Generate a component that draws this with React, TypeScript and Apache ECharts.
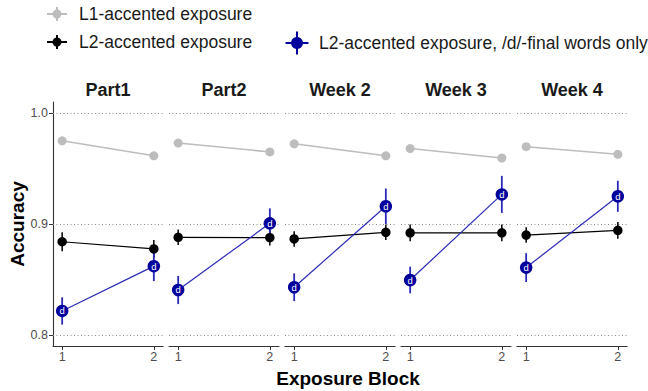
import React, { useEffect, useRef } from "react";
import * as echarts from "echarts";

const panels = ["Part1", "Part2", "Week 2", "Week 3", "Week 4"];
const blocks = [1, 2];
const yTicks = [0.8, 0.9, 1.0];

// L1-accented exposure
const l1Acc = [
  [0.975, 0.9615],
  [0.973, 0.965],
  [0.9723, 0.9615],
  [0.968, 0.9595],
  [0.9697, 0.9628],
];
const l1Err = [
  [0.003, 0.003],
  [0.003, 0.003],
  [0.003, 0.003],
  [0.003, 0.003],
  [0.003, 0.003],
];
// L2-accented exposure
const l2Acc = [
  [0.884, 0.8775],
  [0.888, 0.8877],
  [0.8865, 0.8925],
  [0.892, 0.892],
  [0.89, 0.8943],
];
const l2Err = [
  [0.0085, 0.008],
  [0.007, 0.007],
  [0.007, 0.007],
  [0.0075, 0.0075],
  [0.007, 0.0075],
];
// L2-accented exposure, /d/-final words only
const dAcc = [
  [0.8216, 0.862],
  [0.8405, 0.9006],
  [0.843, 0.916],
  [0.8495, 0.9267],
  [0.8607, 0.925],
];
const dErr = [
  [0.0123, 0.0135],
  [0.0127, 0.0135],
  [0.0125, 0.016],
  [0.012, 0.0167],
  [0.013, 0.014],
];

const FONT = "'Liberation Sans', Arial, Helvetica, sans-serif";
const GREY = "#bdbdbd";
const BLACK = "#000000";
const BLUE_PT = "#00009c";
const BLUE_LN = "#2a2ab8";

const PANEL_LEFT = 53;
const PANEL_STEP = 116;
const PANEL_W = 110;
const PANEL_TOP = 102;
const PANEL_H = 244;

function errSeries(i: number, acc: number[][], err: number[][], color: string, width: number) {
  return {
    type: "custom",
    xAxisIndex: i,
    yAxisIndex: i,
    silent: true,
    z: 3,
    data: blocks.map((b, k) => [b, acc[i][k] - err[i][k], acc[i][k] + err[i][k]]),
    renderItem: (params: any, api: any) => {
      const p1 = api.coord([api.value(0), api.value(1)]);
      const p2 = api.coord([api.value(0), api.value(2)]);
      return {
        type: "line",
        shape: { x1: p1[0], y1: p1[1], x2: p2[0], y2: p2[1] },
        style: { stroke: color, lineWidth: width },
      };
    },
  };
}

function legendIcon(cx: number, cy: number, color: string, r: number, hh: number, hv: number) {
  return {
    type: "group",
    children: [
      { type: "line", shape: { x1: cx - hh, y1: cy, x2: cx + hh, y2: cy }, style: { stroke: color, lineWidth: 2 } },
      { type: "line", shape: { x1: cx, y1: cy - hv, x2: cx, y2: cy + hv }, style: { stroke: color, lineWidth: 2 } },
      { type: "circle", shape: { cx, cy, r }, style: { fill: color } },
    ],
  };
}

function buildOption() {
  const grid: any[] = [];
  const xAxis: any[] = [];
  const yAxis: any[] = [];
  const series: any[] = [];
  const graphic: any[] = [];

  panels.forEach((name, i) => {
    const left = PANEL_LEFT + PANEL_STEP * i;
    grid.push({ left, top: PANEL_TOP, width: PANEL_W, height: PANEL_H, containLabel: false });
    xAxis.push({
      type: "value",
      gridIndex: i,
      min: 0.9,
      max: 2.1,
      axisLine: { show: true, lineStyle: { color: "#333333", width: 1.1 } },
      axisTick: { show: true, customValues: blocks, length: 4, lineStyle: { color: "#333333" } },
      axisLabel: {
        show: true,
        customValues: blocks,
        margin: 4,
        fontSize: 12.5,
        color: "#4d4d4d",
        fontFamily: FONT,
      },
      splitLine: { show: false },
    });
    yAxis.push({
      type: "value",
      gridIndex: i,
      min: 0.79,
      max: 1.01,
      axisLine: { show: i === 0, lineStyle: { color: "#333333", width: 1.1 } },
      axisTick: { show: i === 0, customValues: yTicks, length: 4, lineStyle: { color: "#333333" } },
      axisLabel: {
        show: i === 0,
        customValues: yTicks,
        formatter: (v: number) => v.toFixed(1),
        margin: 5,
        fontSize: 12.5,
        color: "#4d4d4d",
        fontFamily: FONT,
      },
      splitLine: { show: false },
    });

    // L1 series (with grid lines as markLine)
    series.push({
      name: "L1-accented exposure",
      type: "line",
      xAxisIndex: i,
      yAxisIndex: i,
      data: blocks.map((b, k) => [b, l1Acc[i][k]]),
      symbol: "circle",
      symbolSize: 9,
      itemStyle: { color: GREY },
      lineStyle: { color: GREY, width: 1.5 },
      z: 4,
      markLine: {
        silent: true,
        symbol: "none",
        label: { show: false },
        lineStyle: { color: "#8a8a8a", width: 1, type: [1, 2.5] },
        data: yTicks.map((t) => ({ yAxis: t })),
        z: 1,
      },
    });
    series.push(errSeries(i, l1Acc, l1Err, GREY, 1.5));

    series.push({
      name: "L2-accented exposure",
      type: "line",
      xAxisIndex: i,
      yAxisIndex: i,
      data: blocks.map((b, k) => [b, l2Acc[i][k]]),
      symbol: "circle",
      symbolSize: 9.5,
      itemStyle: { color: BLACK },
      lineStyle: { color: BLACK, width: 1.2 },
      z: 4,
    });
    series.push(errSeries(i, l2Acc, l2Err, BLACK, 1.5));

    series.push(errSeries(i, dAcc, dErr, BLUE_LN, 1.8));
    series.push({
      name: "L2-accented exposure, /d/-final words only",
      type: "line",
      xAxisIndex: i,
      yAxisIndex: i,
      data: blocks.map((b, k) => [b, dAcc[i][k]]),
      symbol: "circle",
      symbolSize: 12.5,
      itemStyle: { color: BLUE_PT },
      lineStyle: { color: BLUE_LN, width: 1.2 },
      label: {
        show: true,
        position: "inside",
        formatter: "d",
        color: "#ffffff",
        fontSize: 9.5,
        fontFamily: FONT,
      },
      z: 5,
    });

    graphic.push({
      type: "text",
      x: left + PANEL_W / 2,
      y: 90,
      style: {
        text: name,
        align: "center",
        verticalAlign: "middle",
        font: `bold 18px ${FONT}`,
        fill: "#1a1a1a",
      },
    });
  });

  graphic.push({
    type: "text",
    x: 17,
    y: 224,
    rotation: Math.PI / 2,
    style: {
      text: "Accuracy",
      align: "center",
      verticalAlign: "middle",
      font: `bold 19px ${FONT}`,
      fill: "#000000",
    },
  });
  graphic.push({
    type: "text",
    x: 348,
    y: 378,
    style: {
      text: "Exposure Block",
      align: "center",
      verticalAlign: "middle",
      font: `bold 19px ${FONT}`,
      fill: "#000000",
    },
  });

  // legend
  graphic.push(legendIcon(57, 14, GREY, 4.5, 10, 7));
  graphic.push({
    type: "text",
    x: 79,
    y: 14,
    style: { text: "L1-accented exposure", verticalAlign: "middle", font: `17.5px ${FONT}`, fill: "#1a1a1a" },
  });
  graphic.push(legendIcon(57, 42, BLACK, 4.5, 10, 7));
  graphic.push({
    type: "text",
    x: 79,
    y: 42,
    style: { text: "L2-accented exposure", verticalAlign: "middle", font: `17.5px ${FONT}`, fill: "#1a1a1a" },
  });
  graphic.push(legendIcon(297, 43, BLUE_PT, 6, 11.5, 11.5));
  graphic.push({
    type: "text",
    x: 319,
    y: 43,
    style: {
      text: "L2-accented exposure, /d/-final words only",
      verticalAlign: "middle",
      font: `17.5px ${FONT}`,
      fill: "#1a1a1a",
    },
  });

  return {
    animation: false,
    backgroundColor: "#ffffff",
    textStyle: { fontFamily: FONT },
    grid,
    xAxis,
    yAxis,
    series,
    graphic,
  };
}

export default function App() {
  const ref = useRef<HTMLDivElement>(null);
  useEffect(() => {
    if (!ref.current) return;
    const chart = echarts.init(ref.current, null, { renderer: "svg" });
    chart.setOption(buildOption() as any);
    return () => chart.dispose();
  }, []);
  return (
    <div
      ref={ref}
      style={{ position: "absolute", left: 0, top: 0, width: 648, height: 391 }}
    />
  );
}
